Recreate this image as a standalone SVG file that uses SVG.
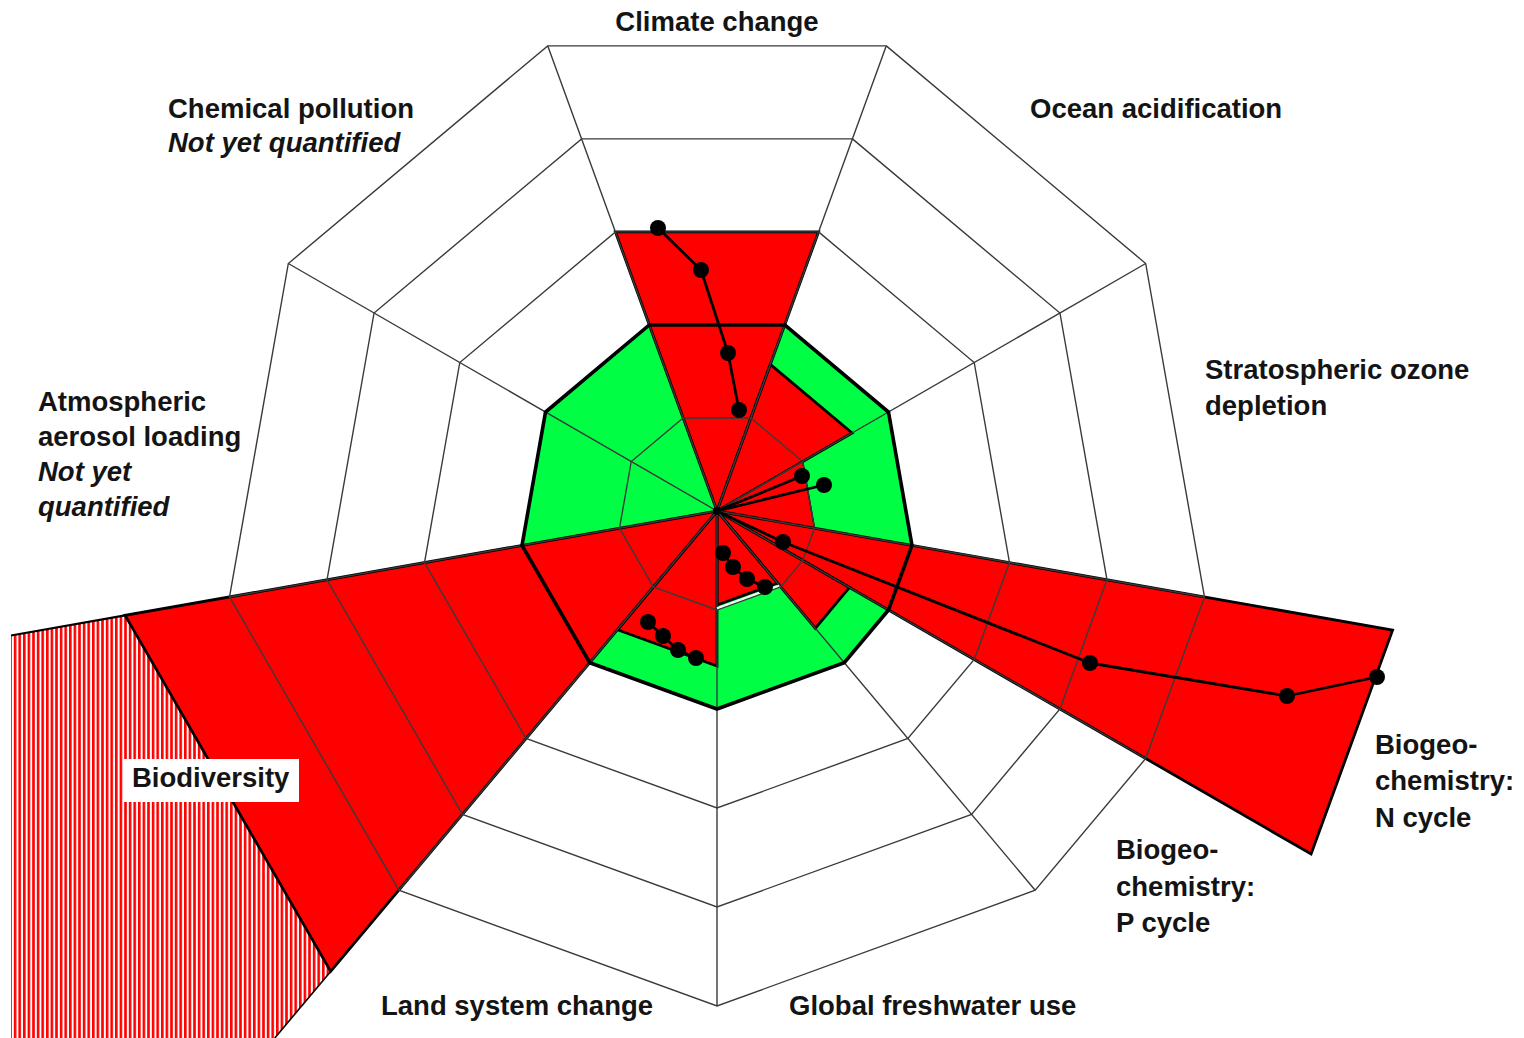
<svg xmlns="http://www.w3.org/2000/svg" width="1524" height="1038" viewBox="0 0 1524 1038">
<defs>
<pattern id="hatch" patternUnits="userSpaceOnUse" width="4.6" height="10">
<rect width="4.6" height="10" fill="#ffffff"/>
<rect x="0" y="0" width="2.6" height="10" fill="#ff0000"/>
</pattern>
<style>
.grid{fill:none;stroke:#3a3a3a;stroke-width:1.4}
.red{fill:#ff0000;stroke:#000;stroke-width:2.8;stroke-linejoin:miter}
.redthin{fill:#ff0000;stroke:#000;stroke-width:1.4}
.safe{fill:#00ff44}
.bound{fill:none;stroke:#000;stroke-width:3.6;stroke-linejoin:miter}
.traj{fill:none;stroke:#000;stroke-width:2.8;stroke-linejoin:round}
.dot{fill:#000}
.lbl{font-family:"Liberation Sans",Arial,sans-serif;font-weight:bold;font-size:27.5px;fill:#141414}
.it{font-style:italic}
</style>
</defs>
<rect width="1524" height="1038" fill="#ffffff"/>

<g id="safe-zone-fill">
<polygon class="safe" points="784.72,324.94 888.47,412 911.99,545.38 888.47,610 844.27,662.68 717,709 589.73,662.68 522.01,545.38 545.53,412 649.28,324.94"/>
</g>

<g id="sector-climate-change">
<polygon class="red" points="717,511 615.42,231.91 818.58,231.91"/>
<text class="lbl" x="717" y="31" text-anchor="middle">Climate change</text>
</g>
<g id="sector-ocean-acidification">
<polygon class="red" points="717,511 770.36,364.41 852.10,433"/>
<text class="lbl" x="1030" y="118">Ocean acidification</text>
</g>
<g id="sector-ozone">
<polygon class="redthin" points="717,511 802.74,461.5 814.50,528.19"/>
<text class="lbl" x="1205" y="379">Stratospheric ozone</text>
<text class="lbl" x="1205" y="415">depletion</text>
</g>
<g id="sector-n-cycle">
<polygon class="red" points="717,511 1392.58,630.12 1311.10,854"/>
<text class="lbl" x="1375" y="754">Biogeo-</text>
<text class="lbl" x="1375" y="790">chemistry:</text>
<text class="lbl" x="1375" y="827">N cycle</text>
</g>
<g id="sector-p-cycle">
<polygon class="red" points="717,511 849.50,587.5 815.35,628.20"/>
<text class="lbl" x="1116" y="859">Biogeo-</text>
<text class="lbl" x="1116" y="896">chemistry:</text>
<text class="lbl" x="1116" y="932">P cycle</text>
</g>
<g id="sector-freshwater">
<polygon class="red" points="717,511 777.43,583.0 717,605"/>
<text class="lbl" x="789" y="1015">Global freshwater use</text>
</g>
<g id="sector-land-system">
<polygon class="red" points="717,511 717,666 617.37,629.74"/>
<text class="lbl" x="381" y="1015">Land system change</text>
</g>
<g id="sector-biodiversity">
<polygon points="125.13,615.36 11,635.5 11,1038 274.8,1038 330.68,971.39" fill="url(#hatch)"/>
<line x1="125.13" y1="615.36" x2="11" y2="635.5" stroke="#000" stroke-width="2.2"/>
<line x1="330.68" y1="971.39" x2="274.8" y2="1038" stroke="#000" stroke-width="1.6"/>
<polygon class="red" points="717,511 330.68,971.39 125.13,615.36"/>
</g>
<g id="sector-aerosol">
<text class="lbl" x="38" y="411">Atmospheric</text>
<text class="lbl" x="38" y="446">aerosol loading</text>
<text class="lbl it" x="38" y="481">Not yet</text>
<text class="lbl it" x="38" y="516">quantified</text>
</g>
<g id="sector-chemical-pollution">
<text class="lbl" x="168" y="118">Chemical pollution</text>
<text class="lbl it" x="168" y="152">Not yet quantified</text>
</g>

<g id="grid">
<polygon class="grid" points="750.86,417.97 802.74,461.5 814.50,528.19 802.74,560.5 780.64,586.84 717,610 653.36,586.84 619.50,528.19 631.26,461.5 683.14,417.97"/>
<polygon class="grid" points="818.58,231.91 974.21,362.5 1009.49,562.57 974.21,659.5 907.91,738.51 717,808 526.09,738.51 424.51,562.57 459.79,362.5 615.42,231.91"/>
<polygon class="grid" points="852.44,138.88 1059.95,313 1106.98,579.77 1059.95,709 971.54,814.35 717,907 462.46,814.35 327.02,579.77 374.05,313 581.56,138.88"/>
<polygon class="grid" points="886.30,45.85 1145.68,263.5 1204.48,596.96 1145.68,758.5 1035.18,890.19 717,1006 398.82,890.19 229.52,596.96 288.32,263.5 547.70,45.85"/>
<path class="grid" d="M717,511L886.30,45.85M717,511L1145.68,263.5M717,511L1204.48,596.96M717,511L1145.68,758.5M717,511L1035.18,890.19M717,511L717,1006M717,511L398.82,890.19M717,511L229.52,596.96M717,511L288.32,263.5M717,511L547.70,45.85"/>
</g>

<g id="safe-boundary">
<polygon class="bound" points="784.72,324.94 888.47,412 911.99,545.38 888.47,610 844.27,662.68 717,709 589.73,662.68 522.01,545.38 545.53,412 649.28,324.94"/>
<line x1="779.2" y1="585.6" x2="717" y2="608.3" stroke="#ffffff" stroke-width="2"/>
</g>

<g id="connectors">
<polyline class="traj" points="658,228 701,270 728,353 739,410"/>
<circle class="dot" cx="658" cy="228" r="8"/>
<circle class="dot" cx="701" cy="270" r="8"/>
<circle class="dot" cx="728" cy="353" r="8"/>
<circle class="dot" cx="739" cy="410" r="8"/>
<polyline class="traj" points="802,476 717,511 824,485"/>
<circle class="dot" cx="802" cy="476" r="8"/>
<circle class="dot" cx="824" cy="485" r="8"/>
<polyline class="traj" points="717,511 783,542 1090,663 1287,696 1377,677"/>
<circle class="dot" cx="783" cy="542" r="8"/>
<circle class="dot" cx="1090" cy="663" r="8"/>
<circle class="dot" cx="1287" cy="696" r="8"/>
<circle class="dot" cx="1377" cy="677" r="8"/>
<polyline class="traj" points="723,553 733,567 747,579 765,587"/>
<circle class="dot" cx="723" cy="553" r="8"/>
<circle class="dot" cx="733" cy="567" r="8"/>
<circle class="dot" cx="747" cy="579" r="8"/>
<circle class="dot" cx="765" cy="587" r="8"/>
<polyline class="traj" points="648,622 663,636 678,650 696,658"/>
<circle class="dot" cx="648" cy="622" r="8"/>
<circle class="dot" cx="663" cy="636" r="8"/>
<circle class="dot" cx="678" cy="650" r="8"/>
<circle class="dot" cx="696" cy="658" r="8"/>
<circle class="dot" cx="717" cy="511" r="4"/>
</g>

<g id="label-biodiversity">
<rect x="123" y="759" width="176" height="43" fill="#ffffff"/>
<text class="lbl" x="132" y="787">Biodiversity</text>
</g>
</svg>
